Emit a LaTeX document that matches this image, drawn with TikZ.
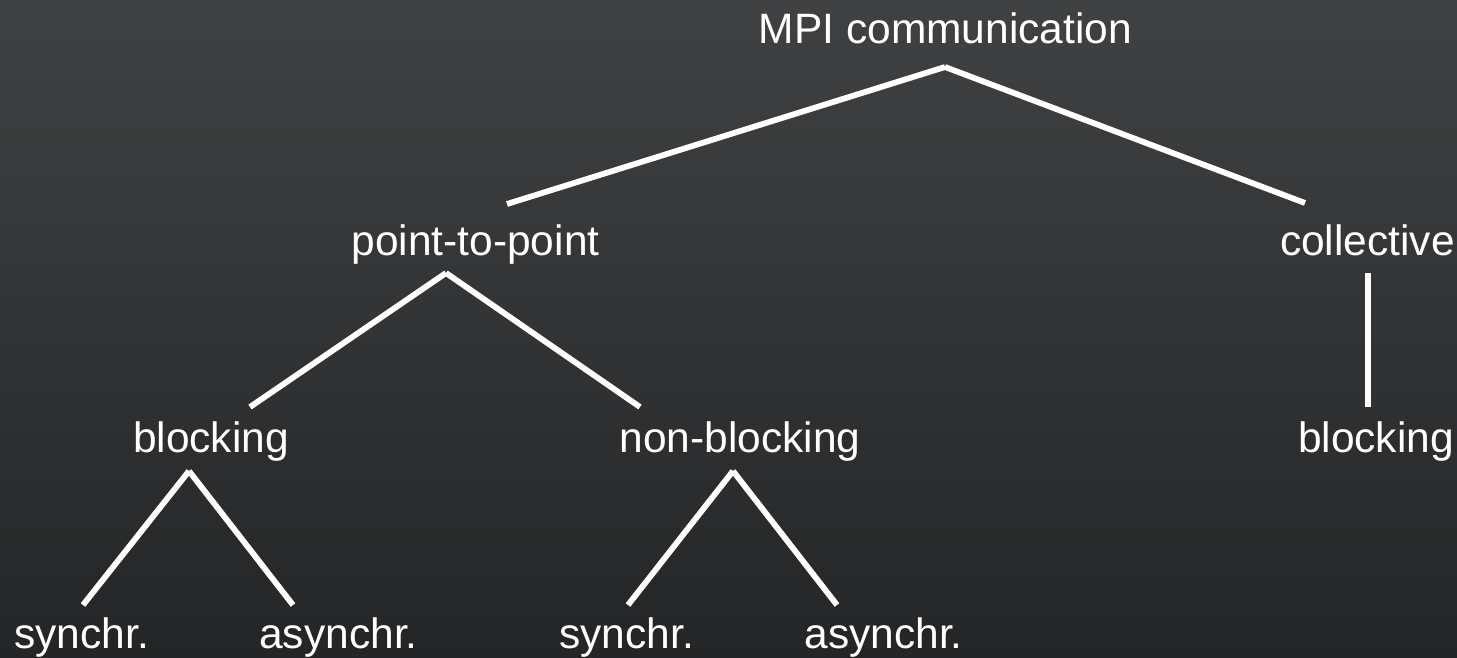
\documentclass[tikz,border=0pt]{standalone}
\usepackage{fontspec}
\setmainfont{Liberation Sans}
\definecolor{bgtop}{HTML}{404142}
\definecolor{bgbot}{HTML}{242526}
\tikzset{
  lbl/.style={text=white, anchor=base, inner sep=0pt, font=\fontsize{42.5}{50}\selectfont},
  edge/.style={draw=white, line width=5.8pt, line cap=butt}
}
\begin{document}
\begin{tikzpicture}[x=1pt,y=-1pt]
\useasboundingbox (0,0) rectangle (1457,657);
\shade[top color=bgtop, bottom color=bgbot] (0,0) rectangle (1457,657);
% labels
\node[lbl] (mpi) at (945.5,43) {MPI communication};
\node[lbl] (p2p) at (475.5,255) {point-to-point};
\node[lbl] (coll) at (1367.5,255) {collective};
\node[lbl] (blk) at (211,452) {blocking};
\node[lbl] (nblk) at (740,452) {non-blocking};
\node[lbl] (cblk) at (1376,452) {blocking};
\node[lbl] (s1) at (81.5,648) {synchr.};
\node[lbl] (a1) at (338.5,648) {asynchr.};
\node[lbl] (s2) at (626.5,648) {synchr.};
\node[lbl] (a2) at (883.5,648) {asynchr.};
% connector end points
\coordinate (mpiB) at (945,67);
\coordinate (p2pT) at (507,204);
\coordinate (collT) at (1305,203);
\coordinate (p2pB) at (446,273);
\coordinate (blkT) at (250,407);
\coordinate (nblkT) at (640,407);
\coordinate (collB) at (1368,273);
\coordinate (cblkT) at (1368,407);
\coordinate (blkB) at (189,471);
\coordinate (s1T) at (83,605);
\coordinate (a1T) at (293,605);
\coordinate (nblkB) at (733,471);
\coordinate (s2T) at (628,605);
\coordinate (a2T) at (837,605);
% connectors
\draw[edge] (mpiB) -- (p2pT);
\draw[edge] (mpiB) -- (collT);
\draw[edge] (p2pB) -- (blkT);
\draw[edge] (p2pB) -- (nblkT);
\draw[edge] (collB) -- (cblkT);
\draw[edge] (blkB) -- (s1T);
\draw[edge] (blkB) -- (a1T);
\draw[edge] (nblkB) -- (s2T);
\draw[edge] (nblkB) -- (a2T);
\end{tikzpicture}
\end{document}
